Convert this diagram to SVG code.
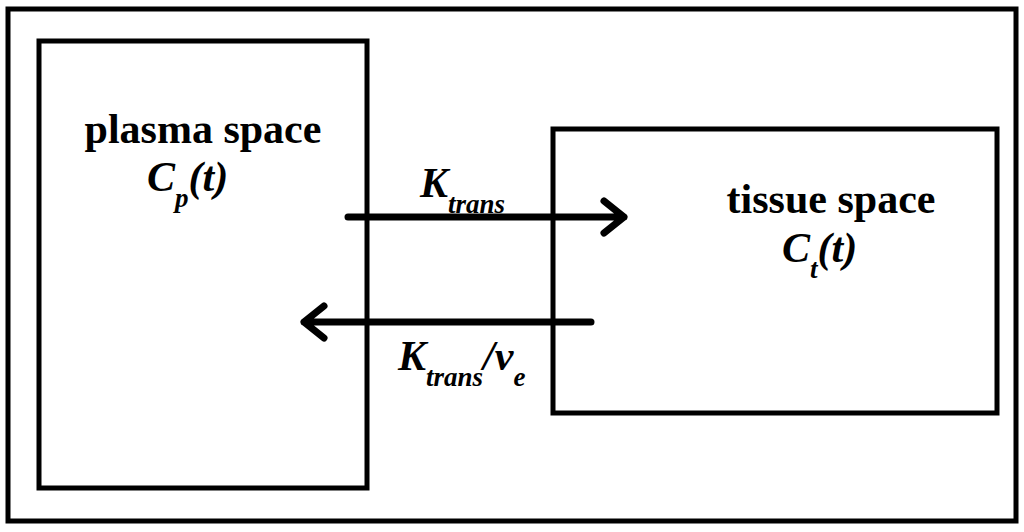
<svg xmlns="http://www.w3.org/2000/svg" width="1024" height="532" viewBox="0 0 1024 532">
<style>
.b{fill:none;stroke:#000;stroke-width:5}
.t{font-family:"Liberation Serif",serif;font-weight:bold;font-size:42px;fill:#000}
.i{font-style:italic}
.s{font-size:27px}
.c{stroke:#000;stroke-width:7;fill:none;stroke-linecap:round;stroke-linejoin:round}
</style>
<rect width="1024" height="532" fill="#fff"/>
<rect id="frame" class="b" x="8" y="9" width="1008" height="512"/>
<g id="plasma">
<rect class="b" x="39" y="41" width="328" height="447"/>
<text class="t" x="203" y="143" text-anchor="middle">plasma space</text>
<text class="t i" x="147" y="191">C<tspan class="s" dy="16">p</tspan><tspan dy="-16">(t)</tspan></text>
</g>
<g id="tissue">
<rect class="b" x="553" y="129" width="444" height="284"/>
<text class="t" x="831" y="213" text-anchor="middle">tissue space</text>
<text class="t i" x="782" y="262">C<tspan class="s" dy="16">t</tspan><tspan dy="-16">(t)</tspan></text>
</g>
<g id="connectors">
<path class="c" d="M348 217H624M604 201L624 217L604 233"/>
<path class="c" d="M591 322H304M324 306L304 322L324 338"/>
<text class="t i" x="420" y="197">K<tspan class="s" dy="16">trans</tspan></text>
<text class="t i" x="398" y="370">K<tspan class="s" dy="16">trans</tspan><tspan dy="-16">/v</tspan><tspan class="s" dy="16">e</tspan></text>
</g>
</svg>
